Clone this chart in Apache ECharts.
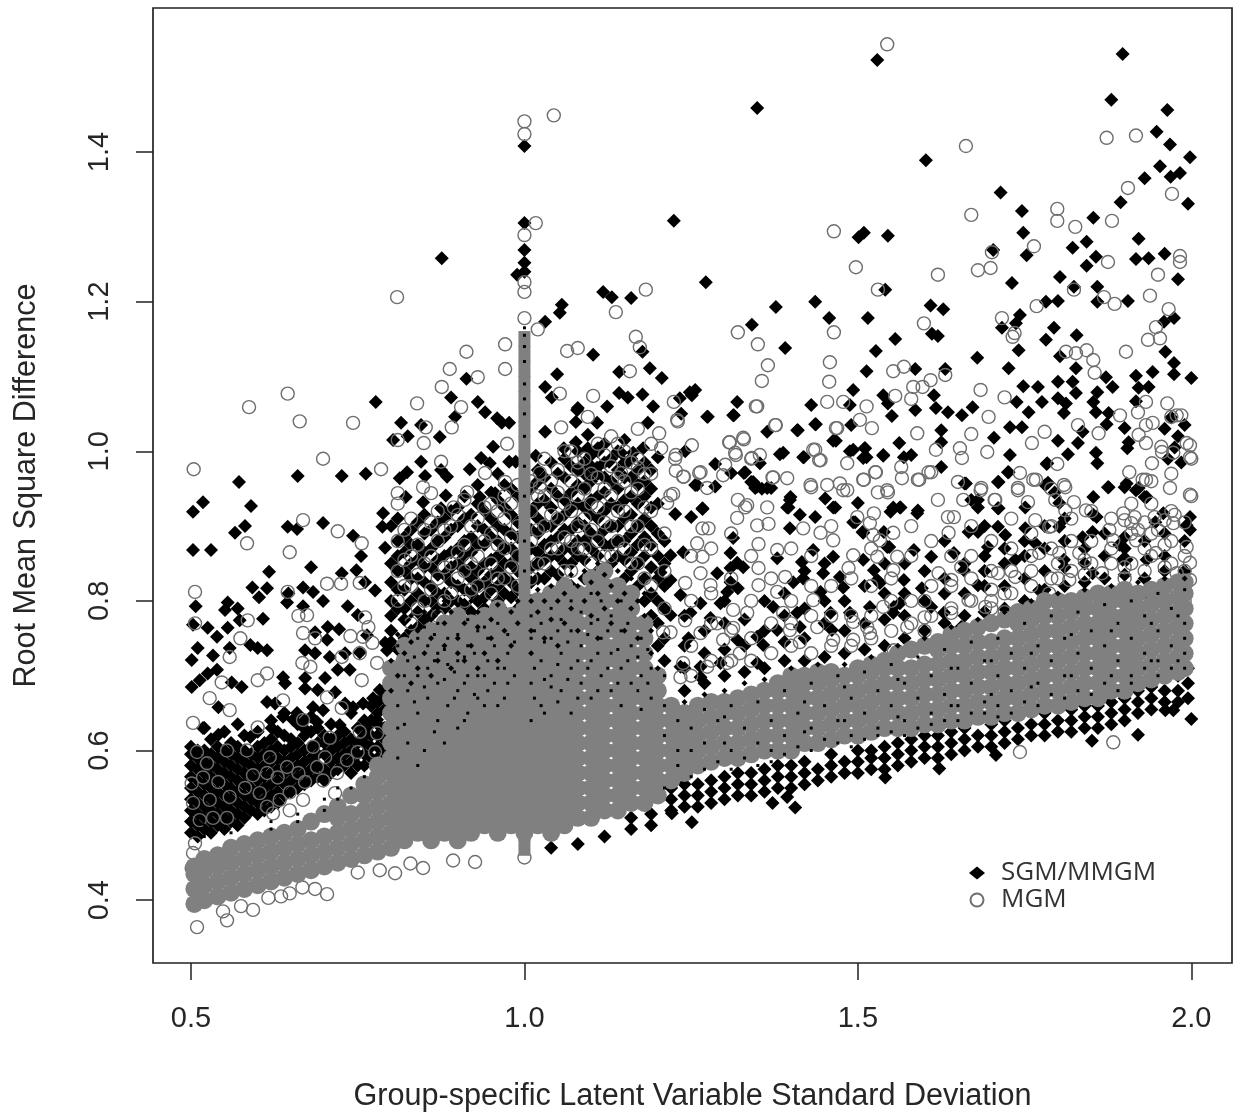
<!DOCTYPE html>
<html>
<head>
<meta charset="utf-8">
<style>html,body{margin:0;padding:0;background:#fff}#c{width:1237px;height:1113px}</style>
<script src="https://cdn.jsdelivr.net/npm/echarts@6/dist/echarts.min.js"></script>
</head>
<body>
<div id="c"></div>
<script>
const xTicks=[0.5,1.0,1.5,2.0];
const yTicks=[0.4,0.6,0.8,1.0,1.2,1.4];
const xTitle="Group-specific Latent Variable Standard Deviation";
const yTitle="Root Mean Square Difference";

// SGM/MMGM points read one at a time: [x,y]
const sgmPoints=[[1.349,1.459],[1.529,1.523],[1.897,1.531],[1.880,1.470],[1.964,1.456],[1.948,1.427],[1.968,1.410],[1.998,1.393],[1.953,1.381],[1.930,1.365],[1.969,1.367],[1.983,1.372],[1.995,1.331],[1.894,1.333],[1.853,1.312],[1.602,1.389],[1.714,1.346],[1.746,1.321],[1.748,1.292],[1.703,1.269],[1.753,1.262],[1.843,1.280],[1.822,1.272],[1.857,1.260],[1.843,1.248],[1.921,1.284],[1.917,1.257],[1.936,1.258],[1.960,1.264],[1.980,1.230],[1.731,1.225],[1.803,1.233],[1.824,1.220],[1.859,1.220],[1.859,1.200],[1.905,1.201],[1.782,1.200],[1.800,1.201],[1.743,1.182],[1.737,1.171],[1.716,1.165],[1.974,1.178],[1.959,1.173],[1.501,1.286],[1.509,1.292],[1.545,1.288],[1.541,1.216],[1.272,1.226],[1.377,1.193],[1.436,1.200],[1.457,1.178],[1.515,1.178],[1.341,1.169],[1.391,1.138],[1.609,1.195],[1.628,1.190],[1.611,1.157],[1.620,1.154],[1.556,1.150],[1.527,1.134],[1.679,1.125],[1.794,1.165],[1.782,1.149],[1.828,1.155],[1.741,1.135],[1.726,1.111],[1.803,1.127],[1.827,1.111],[1.961,1.133],[1.974,1.118],[1.974,1.103],[1.942,1.106],[2.0,1.098],[1.917,1.101],[1.872,1.099],[1.882,1.086],[1.921,1.085],[1.936,1.086],[1.917,1.067],[1.827,1.078],[1.859,1.079],[1.853,1.066],[1.800,1.093],[1.822,1.093],[1.748,1.087],[1.770,1.086],[1.800,1.071],[1.812,1.064],[1.809,1.051],[1.776,1.066],[1.738,1.066],[1.857,1.052],[1.876,1.051],[1.873,1.036],[1.756,1.052],[1.728,1.032],[1.746,1.032],[1.900,1.031],[1.837,1.026],[1.513,1.107],[1.493,1.082],[1.488,1.062],[1.586,1.110],[1.631,1.110],[1.538,1.075],[1.545,1.064],[1.614,1.075],[1.586,1.055],[1.617,1.058],[1.635,1.052],[1.656,1.048],[1.672,1.059],[1.551,1.047],[1.430,1.062],[1.256,1.082],[1.251,1.075],[1.275,1.046],[1.314,1.048],[1.319,1.066],[1.437,1.036],[1.490,1.035],[1.364,1.026],[1.410,1.028],[1.467,1.014],[1.562,1.011],[1.625,1.028],[1.625,1.012],[1.704,1.018],[1.728,0.995],[1.904,1.004],[1.906,1.012],[1.800,1.014],[1.830,1.011],[1.815,0.996],[1.857,0.998],[1.859,0.984],[1.783,0.983],[1.493,1.002],[1.510,1.004],[1.513,0.992],[1.538,0.994],[1.569,0.992],[1.580,0.995],[1.419,0.992],[1.383,0.996],[1.353,0.984],[1.286,0.983],[1.310,0.971],[1.329,0.971],[1.340,0.959],[1.356,0.950],[1.370,0.951],[1.346,0.951],[1.399,0.939],[1.396,0.925],[1.466,0.925],[1.256,0.955],[1.267,0.923],[1.500,0.931],[1.563,0.925],[1.590,0.921],[1.625,0.979],[1.726,0.972],[1.711,0.959],[1.660,0.957],[1.680,0.935],[1.711,0.924],[1.875,0.952],[1.900,0.952],[1.917,0.948],[1.930,0.939],[1.785,0.958],[1.795,0.945],[1.853,0.939],[1.853,0.915],
[1.0,1.408],[1.0,1.305],[1.0,1.269],[1.0,1.252],[0.989,1.236],[1.0,1.240],[0.876,1.258],[1.056,1.196],[1.053,1.185],[1.031,1.173],[1.118,1.213],[1.131,1.206],[1.160,1.205],[1.224,1.308],[1.103,1.129],[1.177,1.133],[1.049,1.103],[1.142,1.106],[1.188,1.111],[1.206,1.098],[1.031,1.086],[1.041,1.072],[1.142,1.078],[1.155,1.072],[1.177,1.076],[1.233,1.071],[1.248,1.079],[1.193,1.060],[1.235,1.050],[1.124,1.060],[1.080,1.058],[1.077,1.039],[1.109,1.038],[1.185,1.038],[1.031,1.026],[1.095,1.022],[1.077,1.012],[1.059,1.004],[1.095,1.004],[1.110,1.004],[1.178,1.004],[1.145,0.998],[1.163,0.998],[1.155,0.986],[1.200,0.992],[1.241,1.000],[1.127,0.986],[1.109,0.978],[1.017,0.994],[0.977,0.986],[0.987,0.986],[0.953,1.006],[0.935,0.991],[0.948,0.984],[0.918,0.976],[0.959,1.044],[0.977,1.038],[0.966,1.038],[0.930,1.066],[0.941,1.052],[0.890,1.072],[0.913,1.097],[0.896,1.046],[0.873,1.019],[0.777,1.066],[0.815,1.038],[0.825,1.020],[0.803,1.015],[0.845,1.035],[0.845,0.986],[0.824,0.972],[0.813,0.964],[0.851,0.967],[0.884,0.966],[0.875,0.975],[0.882,0.941],[0.848,0.932],[0.875,0.924],[0.822,0.939],[0.956,0.944],[0.930,0.955],[0.933,0.939],[0.762,0.970],[0.726,0.967],[0.660,0.967],[0.572,0.959],[0.590,0.927],[0.518,0.932],[0.503,0.919],[0.788,0.917],
[0.503,0.868],[0.530,0.868],[0.566,0.891],[0.581,0.900],[0.645,0.899],[0.659,0.896],[0.698,0.904],[0.743,0.887],[0.755,0.860],[0.787,0.899],[0.791,0.871],[0.617,0.839],[0.680,0.845],[0.726,0.837],[0.748,0.841],[0.761,0.825],[0.776,0.814],[0.592,0.818],[0.614,0.817],[0.602,0.805],[0.507,0.793],[0.668,0.818],[0.683,0.812],[0.698,0.800],[0.644,0.798],[0.646,0.810],[0.668,0.793],[0.555,0.798],[0.551,0.788],[0.570,0.790],[0.608,0.776],[0.735,0.793],[0.750,0.781],[0.503,0.768],[0.525,0.764],[0.539,0.752],[0.555,0.764],[0.573,0.774],[0.705,0.765],[0.722,0.762],[0.686,0.758],[0.704,0.748],[0.764,0.754],[0.791,0.744],[0.794,0.734],[0.510,0.737],[0.501,0.721],[0.589,0.741],[0.614,0.734],[0.600,0.737],[0.558,0.737],[0.533,0.727],[0.671,0.734],[0.708,0.725],[0.686,0.730],[0.753,0.731],[0.731,0.730],[0.720,0.708],[0.738,0.708],[0.525,0.703],[0.513,0.694],[0.501,0.685],[0.539,0.708],[0.638,0.698],[0.641,0.690],[0.671,0.697],[0.671,0.683],[0.701,0.697],[0.690,0.681],[0.716,0.678],[0.783,0.681],[0.773,0.670],[0.794,0.684],[0.576,0.685],[0.561,0.691],[0.758,0.663],[0.743,0.658],[0.731,0.663],[0.614,0.665],[0.626,0.663],[0.638,0.645],[0.659,0.650],[0.683,0.658],[0.698,0.654],[0.621,0.630],[0.541,0.658],[0.518,0.630],[0.723,0.634],[0.689,0.638],[0.668,0.631],[0.653,0.641],[0.779,0.641],[0.764,0.630],[0.541,0.621],[0.589,0.618],
[1.274,1.046],[1.313,1.048],[1.079,1.055],[1.409,1.028],[1.436,1.036],[1.463,1.014],[1.488,1.000],[1.511,1.004],[1.538,0.995],[1.508,0.991],[1.418,0.992],[1.388,0.998],[1.331,0.972],[1.343,0.959],[1.364,0.951],[1.349,0.953],[1.259,0.955],[1.286,0.953],[1.451,0.937],[1.463,0.925],[1.398,0.935],[1.394,0.925],[1.413,0.915],[1.226,0.916],[1.250,0.912],[1.267,0.924],[1.496,0.905],[1.508,0.891],[1.398,0.897],[1.436,0.912],[1.544,0.872],[1.553,0.925],[1.313,0.884],[1.433,0.868],[1.309,0.864],[1.238,0.865],[1.416,0.852],[1.463,0.859],[1.508,0.855],[1.379,0.857],[1.319,0.851],[1.328,0.845],[1.309,0.844],[1.289,0.837],[1.219,0.861],[1.204,0.838],[1.219,0.828],[1.234,0.808],[1.309,0.825],[1.320,0.817],[1.304,0.812],[1.294,0.797],[1.264,0.797],[1.279,0.777],[1.249,0.784],[1.219,0.781],[1.403,0.825],[1.418,0.830],[1.444,0.812],[1.478,0.818],[1.529,0.828],[1.473,0.832],[1.448,0.837],[1.349,0.752],[1.358,0.741],[1.246,0.750],[1.373,0.792],[1.409,0.784],[1.459,0.784],[1.488,0.784],[1.518,0.792],[1.553,0.784],[1.413,0.765],[1.461,0.761],[1.379,0.761],[1.319,0.748],[1.264,0.712],[1.294,0.717],[1.234,0.712],[1.264,0.698],[1.349,0.717],
[1.662,0.957],[1.710,0.959],[1.725,0.972],[1.784,0.984],[1.781,0.955],[1.802,0.931],[1.876,0.952],[1.903,0.957],[1.933,0.939],[1.921,0.951],[1.858,0.912],[1.680,0.925],[1.670,0.935],[1.710,0.924],[1.751,0.925],[1.802,0.899],[1.837,0.885],[1.852,0.892],[1.564,0.925],[1.589,0.917],[1.549,0.919],[1.507,0.892],[1.493,0.905],[1.946,0.905],[1.998,0.912],[1.998,0.895],[1.993,0.901],[1.958,0.917],[1.892,0.875],[1.903,0.855],[1.933,0.855],[1.751,0.897],[1.721,0.888],[1.766,0.877],[1.680,0.892],[1.666,0.892],[1.710,0.899],[1.539,0.892],[1.547,0.872],[1.524,0.841],[1.533,0.824],[1.569,0.828],[1.596,0.817],[1.554,0.792],[1.563,0.797],[1.584,0.868],[1.610,0.859],[1.644,0.864],[1.659,0.841],[1.695,0.872],[1.736,0.855],[1.772,0.814],[1.809,0.855],[1.680,0.821],[1.852,0.837],[1.897,0.855],[1.938,0.805],[1.610,0.792],[1.629,0.784],[1.655,0.765],
[1.541,0.564],[1.622,0.576],[1.707,0.594],[1.851,0.613],[1.920,0.621],[2.0,0.642],[1.961,0.654],[1.973,0.654],[1.251,0.504],[1.372,0.530],[1.406,0.524],[1.394,0.538],[1.221,0.516],
[1.96,1.03],[1.97,1.045],[1.98,1.02],[1.99,1.035],[1.975,1.005],[1.985,0.985],[1.965,0.99]];

// Dense SGM/MMGM patches, one column per entry: [x, y, y, ...]
const sgmColumns=[
[.50,.49,.505,.52,.535,.55,.565,.58,.595,.605],
[.51,.485,.50,.515,.53,.545,.56,.575,.59,.60],
[.52,.495,.51,.525,.54,.555,.57,.585,.60,.63],
[.53,.49,.505,.52,.535,.55,.565,.58,.595,.615],
[.54,.50,.515,.53,.545,.56,.575,.59,.605],
[.55,.495,.51,.525,.54,.555,.57,.585,.60,.625],
[.56,.505,.52,.535,.55,.565,.58,.595,.61],
[.57,.50,.515,.53,.545,.56,.575,.59,.605,.635],
[.58,.51,.525,.54,.555,.57,.585,.60,.62],
[.59,.52,.535,.55,.565,.58,.595],
[.60,.515,.53,.545,.56,.575,.59,.605,.625],
[.61,.52,.535,.55,.565,.58,.595,.61],
[.62,.525,.54,.555,.57,.585,.60,.615,.64],
[.63,.53,.545,.56,.575,.59,.605,.625],
[.64,.54,.555,.57,.585,.60,.62,.65],
[.65,.545,.56,.575,.59,.605,.615],
[.66,.55,.565,.58,.595,.61,.635],
[.67,.555,.57,.585,.60,.62,.64],
[.68,.56,.575,.59,.605,.625,.645],
[.69,.565,.58,.595,.61,.63],
[.70,.56,.575,.595,.61,.62],
[.71,.57,.585,.60,.615,.635],
[.72,.575,.59,.605,.62],
[.73,.58,.595,.61,.625],
[.74,.57,.585,.60,.615,.65],
[.75,.58,.595,.61,.63],
[.76,.58,.595,.61,.62,.64],
[.77,.59,.605,.62,.64,.66],
[.78,.59,.605,.62,.635,.65,.665],
[.79,.60,.615,.63,.655,.67],
[.80,.745,.76,.78,.80,.825,.85,.90],
[.81,.735,.79,.815,.84,.86,.88,.91],
[.82,.75,.775,.79,.815,.84,.865,.885],
[.83,.76,.80,.83,.85,.875,.895],
[.84,.765,.785,.81,.83,.855,.875,.905],
[.85,.74,.775,.80,.825,.845,.865,.89,.915],
[.86,.76,.78,.80,.82,.845,.87,.895],
[.87,.75,.79,.81,.835,.855,.88,.905],
[.88,.77,.79,.81,.835,.86,.885,.91],
[.89,.76,.80,.825,.845,.865,.895,.92],
[.90,.78,.80,.82,.85,.87,.90,.925],
[.91,.77,.795,.815,.84,.86,.88,.91,.94],
[.92,.785,.81,.83,.845,.865,.885,.915],
[.93,.775,.80,.82,.84,.875,.90,.93],
[.94,.79,.805,.825,.85,.875,.895,.92],
[.95,.78,.815,.835,.855,.885,.91,.945],
[.96,.80,.82,.84,.86,.88,.90,.935,.97],
[.97,.785,.81,.83,.85,.87,.895,.925,.955],
[.98,.805,.825,.85,.87,.89,.915,.95],
[.99,.79,.815,.84,.86,.885,.905,.94],
[1.01,.80,.825,.845,.87,.895,.92,.95],
[1.02,.83,.85,.865,.89,.91,.93,.96,.975],
[1.03,.805,.83,.855,.875,.90,.935,.965],
[1.04,.84,.86,.88,.90,.925,.95,.985],
[1.05,.81,.835,.86,.885,.91,.94,.97],
[1.06,.85,.87,.895,.915,.935,.965,.99],
[1.07,.82,.85,.87,.895,.925,.945,.98],
[1.08,.86,.88,.905,.93,.955,.975,1.0],
[1.09,.83,.855,.88,.90,.925,.95,.97,.985],
[1.10,.87,.89,.915,.935,.96,.98,.995],
[1.11,.84,.86,.885,.91,.94,.97,1.0],
[1.12,.875,.895,.92,.945,.965,.985,1.01],
[1.13,.85,.875,.90,.93,.96,.99],
[1.14,.86,.88,.90,.925,.95,.975,1.0],
[1.15,.83,.855,.88,.91,.935,.965,.985,1.015],
[1.16,.84,.865,.89,.915,.94,.965,.99],
[1.17,.82,.85,.875,.90,.93,.955,.975],
[1.18,.80,.83,.86,.885,.91,.94,.96,.985],
[1.19,.78,.81,.845,.875,.90,.925,.95,.975],
[1.20,.74,.77,.80,.83,.86,.89,.93],
[1.21,.72,.75,.79,.82,.85,.88],
[1.24,.68,.71,.74,.78],[1.27,.69,.73,.76],[1.30,.70,.735,.77,.80],[1.33,.705,.74,.775],[1.36,.71,.76,.80],[1.39,.72,.745,.78,.81],[1.42,.72,.75,.79,.84],[1.45,.725,.77,.80,.85],[1.48,.73,.76,.80],[1.51,.735,.77,.82],[1.54,.74,.775,.81,.85],[1.57,.75,.78,.81,.85],[1.60,.76,.80,.84],[1.63,.77,.81,.83,.88],[1.66,.78,.81,.85],[1.69,.785,.82,.84,.86,.90],[1.72,.79,.82,.85,.87],[1.75,.80,.83,.86,.88],[1.78,.815,.84,.87,.90],[1.81,.82,.845,.88,.91],[1.84,.825,.85,.87],[1.87,.83,.86,.89],[1.90,.835,.87,.885],[1.93,.83,.88],[1.96,.84,.86,.89],[1.99,.84,.88],
[1.04,.47],[1.08,.475],[1.12,.485],[1.16,.495,.51],[1.19,.50,.515],
[1.22,.52,.535,.55],[1.24,.525,.54,.555],[1.26,.525,.54,.555],[1.28,.53,.545,.56],[1.30,.535,.55,.565],
[1.32,.54,.555,.57],[1.34,.54,.555,.57],[1.36,.545,.56,.575],[1.38,.55,.565,.58],[1.40,.55,.565,.58],
[1.42,.555,.57,.585],[1.44,.56,.575],[1.46,.565,.58,.595],[1.48,.57,.585],[1.50,.57,.585,.60],
[1.52,.575,.59,.60],[1.54,.575,.59,.605],[1.56,.58,.595,.61],[1.58,.585,.60,.615],[1.60,.59,.605,.62],
[1.62,.59,.605,.62],[1.64,.595,.61,.625],[1.66,.60,.615,.63],[1.68,.605,.62],[1.70,.605,.62,.635],
[1.72,.61,.625,.64],[1.74,.615,.63],[1.76,.62,.635],[1.78,.62,.635,.65],[1.80,.625,.64],
[1.82,.625,.64,.655],[1.84,.63,.645,.66],[1.86,.63,.645,.66],[1.88,.635,.65,.665],[1.90,.64,.655,.67],
[1.92,.65,.665,.68],[1.94,.655,.67,.685],[1.96,.665,.68],[1.98,.665,.68,.70],[1.995,.67,.69,.71]
];

// MGM points read one at a time: [x,y]
const mgmPoints=[[1.544,1.544],[1.662,1.408],[1.873,1.419],[1.917,1.422],[1.905,1.352],[1.971,1.344],[1.670,1.316],[1.799,1.324],[1.799,1.308],[1.826,1.300],[1.881,1.308],[1.464,1.294],[1.497,1.246],[1.764,1.274],[1.701,1.266],[1.680,1.242],[1.699,1.245],[1.620,1.236],[1.530,1.216],[1.875,1.253],[1.983,1.261],[1.983,1.253],[1.950,1.236],[1.938,1.208],[1.824,1.216],[1.768,1.194],[1.869,1.206],[1.885,1.197],[1.966,1.190],[1.947,1.166],[1.935,1.149],[1.953,1.151],[1.902,1.133],[1.716,1.178],[1.735,1.158],[1.732,1.153],[1.599,1.171],[1.320,1.159],[1.350,1.143],[1.464,1.159],[1.365,1.115],[1.356,1.094],[1.458,1.119],[1.457,1.093],[1.347,1.060],[1.454,1.066],[1.478,1.066],[1.513,1.060],[1.556,1.074],[1.580,1.070],[1.684,1.082],[1.720,1.072],[1.696,1.046],[1.583,1.086],[1.597,1.086],[1.609,1.095],[1.553,1.107],[1.569,1.113],[1.631,1.102],[1.377,1.035],[1.329,1.016],[1.307,1.012],[1.317,0.995],[1.467,1.031],[1.521,1.031],[1.503,1.042],[1.589,1.024],[1.670,1.023],[1.653,1.004],[1.617,1.002],[1.694,0.999],[1.656,0.991],[1.761,1.011],[1.780,1.026],[1.830,1.035],[1.861,1.024],[1.893,1.048],[1.920,1.052],[1.932,1.066],[1.964,1.064],[1.978,1.048],[1.932,1.035],[1.921,1.022],[1.932,1.011],[1.956,0.999],[2.0,0.990],[1.998,1.008],[1.941,0.984],[1.927,0.962],[1.799,0.983],[1.767,0.962],[1.740,0.948],[1.809,0.955],[1.824,0.932],[1.743,0.971],[2.0,0.940],[1.843,1.135],[1.853,1.122],[1.827,1.131],[1.812,1.133],[1.855,1.105],[1.565,0.979],[1.590,0.962],[1.606,0.972],[1.566,0.964],[1.509,0.962],[1.527,0.972],[1.545,0.945],[1.530,0.945],[1.430,0.952],[1.478,0.948],[1.454,0.955],[1.436,1.002],[1.442,0.988],[1.340,0.990],[1.353,0.995],[1.372,0.965],[1.394,0.964],[1.262,0.971],[1.301,0.982],[1.274,0.951],[1.684,0.948],[1.705,0.935],
[1.0,1.441],[1.0,1.424],[1.044,1.449],[1.017,1.305],[1.0,1.289],[1.0,1.226],[1.0,1.213],[0.809,1.206],[1.182,1.216],[1.137,1.186],[1.0,1.178],[1.020,1.163],[0.971,1.143],[0.971,1.110],[0.913,1.133],[0.888,1.110],[0.930,1.099],[0.876,1.086],[1.064,1.134],[1.080,1.138],[1.167,1.153],[1.173,1.139],[1.158,1.107],[0.839,1.064],[0.905,1.059],[0.891,1.032],[0.852,1.032],[0.849,1.011],[0.645,1.077],[0.587,1.059],[0.663,1.040],[0.743,1.038],[0.698,0.990],[0.785,0.976],[0.504,0.976],[0.875,0.986],[1.053,1.077],[1.103,1.074],[1.230,1.040],[1.224,1.066],[1.095,1.046],[1.055,1.032],[0.974,1.010],[0.810,1.015],[1.227,0.995],[1.227,0.974],[1.239,0.966],[1.223,0.943],[1.202,1.024],[1.205,1.004],[1.080,0.975],[1.145,0.971],[1.170,0.978],[0.971,0.959],[0.941,0.971],[0.914,0.945],[0.810,0.944],[0.848,0.952],[0.860,0.944],[0.894,0.925],[1.023,0.971],[1.023,0.952],
[0.668,0.908],[0.720,0.893],[0.648,0.865],[0.756,0.877],[0.704,0.823],[0.725,0.823],[0.753,0.824],[0.584,0.877],[0.506,0.812],[0.645,0.812],[0.661,0.780],[0.674,0.781],[0.761,0.778],[0.766,0.765],[0.506,0.770],[0.585,0.774],[0.739,0.753],[0.668,0.757],[0.686,0.750],[0.772,0.744],[0.758,0.752],[0.558,0.725],[0.574,0.750],[0.726,0.725],[0.753,0.730],[0.667,0.717],[0.679,0.712],[0.756,0.694],[0.779,0.717],[0.546,0.691],[0.528,0.670],[0.600,0.694],[0.614,0.703],[0.704,0.671],[0.726,0.657],[0.638,0.667],[0.503,0.637],[0.558,0.654],[0.600,0.631],[0.668,0.641],[0.708,0.617],[0.753,0.625],[0.779,0.623],
[0.509,0.598],[0.554,0.600],[0.584,0.600],[0.524,0.583],[0.518,0.564],[0.501,0.556],[0.541,0.558],[0.528,0.534],[0.503,0.530],[0.593,0.567],[0.614,0.570],[0.644,0.578],[0.661,0.570],[0.671,0.558],[0.630,0.564],[0.648,0.544],[0.581,0.550],[0.558,0.538],[0.603,0.543],[0.633,0.534],[0.614,0.525],[0.668,0.534],[0.689,0.578],[0.701,0.591],[0.719,0.570],[0.750,0.598],[0.776,0.598],[0.734,0.587],[0.513,0.507],[0.533,0.510],[0.554,0.510],[0.623,0.516],[0.648,0.520],[0.716,0.543],[0.698,0.560],[0.683,0.605],[0.618,0.591],
[0.509,0.364],[0.554,0.373],[0.593,0.387],[0.704,0.408],[0.686,0.415],[0.667,0.417],[0.648,0.409],[0.616,0.403],[0.806,0.436],[0.750,0.437],[0.848,0.443],[0.829,0.449],[0.893,0.453],[0.926,0.451],[1.0,0.457],[0.720,0.449],[0.501,0.443],[0.503,0.463],[0.506,0.476],[0.783,0.44],[0.548,0.385],[0.575,0.392],[0.635,0.405],
[1.229,1.042],[1.349,1.060],[1.376,1.035],[1.469,1.031],[1.251,1.008],[1.226,0.990],[1.328,1.018],[1.308,1.012],[1.238,0.966],[1.264,0.972],[1.298,0.968],[1.316,0.998],[1.341,0.991],[1.373,0.965],[1.433,1.002],[1.444,0.988],[1.484,0.984],[1.508,0.962],[1.429,0.955],[1.473,0.957],[1.484,0.948],[1.219,0.941],[1.214,0.931],[1.320,0.935],[1.331,0.925],[1.364,0.925],[1.319,0.911],[1.334,0.928],[1.349,0.901],[1.366,0.903],[1.351,0.876],[1.276,0.897],[1.267,0.897],[1.259,0.877],[1.267,0.859],[1.444,0.891],[1.418,0.897],[1.523,0.888],[1.493,0.861],[1.463,0.881],[1.351,0.844],[1.379,0.868],[1.391,0.832],[1.351,0.821],[1.379,0.812],[1.279,0.821],[1.264,0.837],[1.241,0.824],[1.553,0.841],[1.529,0.859],[1.486,0.844],[1.553,0.891],[1.433,0.801],[1.313,0.788],[1.334,0.784],[1.289,0.770],[1.313,0.764],[1.298,0.748],[1.219,0.758],[1.208,0.758],[1.241,0.774],[1.264,0.757],[1.388,0.784],[1.493,0.772],[1.514,0.765],[1.439,0.765],[1.413,0.745],[1.538,0.792],[1.238,0.717],[1.234,0.698],[1.274,0.712],[1.304,0.717],[1.323,0.730],[1.398,0.761],[1.463,0.748],[1.493,0.748],
[1.526,0.972],[1.544,0.948],[1.592,0.962],[1.610,0.972],[1.650,0.959],[1.685,0.951],[1.706,0.935],[1.740,0.951],[1.763,0.962],[1.811,0.952],[1.796,0.935],[1.755,0.932],[1.998,0.942],[1.968,0.951],[1.932,0.962],[1.907,0.972],[1.955,1.006],[1.998,0.992],[1.973,0.998],[1.993,1.011],[1.942,1.038],[1.970,1.046],[1.985,1.048],[1.620,0.935],[1.635,0.912],[1.644,0.912],[1.658,0.935],[1.524,0.917],[1.499,0.912],[1.533,0.881],[1.518,0.904],[1.811,0.921],[1.842,0.921],[1.787,0.899],[1.766,0.908],[1.877,0.895],[1.898,0.917],[1.910,0.904],[1.973,0.904],[1.993,0.872],[1.998,0.851],[1.998,0.828],[1.978,0.837],[1.947,0.864],[1.917,0.881],[1.883,0.881],[1.559,0.859],[1.636,0.891],[1.621,0.837],[1.640,0.828],[1.655,0.845],[1.710,0.837],[1.736,0.832],[1.772,0.864],[1.802,0.864],[1.832,0.864],[1.817,0.828],[1.787,0.810],[1.866,0.837],[1.877,0.805],[1.666,0.801],[1.691,0.792],[1.640,0.784],[1.600,0.778],[1.574,0.765],[1.518,0.757],[1.554,0.734],
[1.883,0.611],[1.743,0.598],[1.90,0.908],[1.915,0.912],[1.93,0.905],[1.945,0.912],[1.96,0.908],[1.975,0.915],[1.99,0.905],[1.92,0.895],[1.95,0.895]];

// Overlapping MGM circles in the crowded blocks: [x, y, y, ...]
const mgmColumns=[
[.81,.80,.84,.88,.93],[.82,.82,.855,.895],[.83,.77,.82,.86,.91],[.84,.79,.835,.875],[.85,.80,.85,.895],[.86,.815,.86,.905],[.87,.78,.83,.88,.92],[.88,.80,.845,.895],[.89,.81,.85,.90],[.90,.83,.865,.915],
[.91,.80,.84,.875,.935],[.92,.815,.85,.90],[.93,.82,.86,.91],[.94,.835,.88,.925],[.95,.81,.85,.89,.93],[.96,.83,.875,.92],[.97,.83,.87,.91,.94],[.98,.845,.885,.93],[.99,.82,.86,.90,.955],
[1.01,.83,.88,.92,.96],[1.02,.85,.895,.94],[1.03,.85,.90,.94,.99],[1.04,.87,.915,.96],[1.05,.87,.91,.945,.975],[1.06,.84,.885,.93,1.0],[1.07,.84,.88,.92,.96,1.0],[1.08,.87,.90,.94,.985],[1.09,.87,.91,.95,.99],[1.10,.85,.895,.93,.97],
[1.11,.88,.925,.965,1.01],[1.12,.86,.905,.95,.995],[1.13,.86,.90,.94,.98,1.02],[1.14,.88,.92,.965,1.01],[1.15,.87,.92,.96,1.0],[1.16,.85,.90,.945,.985],[1.17,.85,.90,.95,.99,1.03],[1.18,.83,.875,.925,.97],[1.19,.82,.87,.92,.97,1.01],[1.21,.79,.84,.89],
[1.25,.70,.74,.80,.86],[1.28,.72,.77,.81,.87],[1.31,.72,.76,.83,.89],[1.34,.72,.75,.80,.86],[1.37,.73,.77,.83],[1.40,.74,.77,.80,.87],[1.43,.73,.78,.82,.86],[1.46,.74,.78,.82,.90],[1.49,.74,.78,.83],[1.52,.75,.78,.82,.87],[1.55,.76,.80,.83],[1.58,.77,.80,.86,.90],[1.61,.78,.82,.88],[1.64,.79,.82,.86],[1.67,.80,.83,.86,.90],[1.70,.80,.84,.88],[1.73,.81,.84,.87,.91],[1.76,.84,.86,.89],[1.79,.83,.87,.90,.95],[1.82,.84,.88,.91],[1.85,.85,.88,.92],[1.88,.85,.87,.91],[1.91,.85,.89,.93],[1.94,.86,.89,.93,.96],[1.97,.85,.88,.92,.97],
[1.60,.76,.80],[1.70,.79,.815],[1.72,.785,.81],[1.76,.82],[1.80,.83,.85],[1.84,.835,.855],[1.90,.83,.845],[1.93,.84,.87],[1.96,.845,.875],[1.99,.84,.86],[1.99,.80,.82],[1.98,.78]
];

// Solid grey core of the MGM cloud: [x, y, y, ...]
const greyColumns=[
[.505,.395,.415,.435,.445],[.52,.40,.42,.44,.455],[.54,.405,.425,.445,.46],[.56,.41,.43,.45,.47],[.58,.415,.435,.455,.475],
[.60,.42,.44,.46,.48],[.62,.425,.445,.465,.485],[.64,.43,.45,.47,.49],[.66,.435,.455,.475,.495],[.68,.44,.46,.48,.505],
[.70,.445,.465,.485,.515],[.72,.45,.47,.49,.51,.525],[.74,.455,.475,.495,.515,.54],[.76,.46,.48,.50,.52,.54,.555],[.78,.465,.485,.505,.525,.545,.565,.58],
[.80,.47,.49,.51,.53,.55,.57,.59,.61,.63,.65,.67,.69,.71],
[.82,.48,.50,.52,.54,.56,.58,.60,.62,.64,.66,.68,.70,.72,.74],
[.84,.49,.51,.53,.55,.57,.59,.61,.63,.65,.67,.69,.71,.73,.75],
[.86,.48,.50,.52,.54,.56,.58,.60,.62,.64,.66,.68,.70,.72,.74,.76],
[.88,.49,.51,.53,.55,.57,.59,.61,.63,.65,.67,.69,.71,.73,.75,.77],
[.90,.48,.50,.52,.54,.56,.58,.60,.62,.64,.66,.68,.70,.72,.74,.76,.78],
[.92,.49,.51,.53,.55,.57,.59,.61,.63,.65,.67,.69,.71,.73,.75,.77],
[.94,.50,.52,.54,.56,.58,.60,.62,.64,.66,.68,.70,.72,.74,.76,.78],
[.96,.49,.51,.53,.55,.57,.59,.61,.63,.65,.67,.69,.71,.73,.75,.77,.79],
[.98,.50,.52,.54,.56,.58,.60,.62,.64,.66,.68,.70,.72,.74,.76,.78],
[1.0,.49,.51,.53,.55,.57,.59,.61,.63,.65,.67,.69,.71,.73,.75,.77,.79],
[1.02,.50,.52,.54,.56,.58,.60,.62,.64,.66,.68,.70,.72,.74,.76,.78,.80],
[1.04,.49,.51,.53,.55,.57,.59,.61,.63,.65,.67,.69,.71,.73,.75,.77,.79,.81],
[1.06,.50,.52,.54,.56,.58,.60,.62,.64,.66,.68,.70,.72,.74,.76,.78,.80,.82],
[1.08,.51,.53,.55,.57,.59,.61,.63,.65,.67,.69,.71,.73,.75,.77,.79,.81],
[1.10,.51,.53,.55,.57,.59,.61,.63,.65,.67,.69,.71,.73,.75,.77,.79,.81,.83],
[1.12,.52,.54,.56,.58,.60,.62,.64,.66,.68,.70,.72,.74,.76,.78,.80,.82,.84],
[1.14,.52,.54,.56,.58,.60,.62,.64,.66,.68,.70,.72,.74,.76,.78,.80,.82],
[1.16,.53,.55,.57,.59,.61,.63,.65,.67,.69,.71,.73,.75,.77,.79,.81],
[1.18,.53,.55,.57,.59,.61,.63,.65,.67,.69,.71,.73,.75,.77],
[1.20,.54,.56,.58,.60,.62,.64,.66,.68,.70],
[1.22,.56,.58,.60,.62,.64,.66],[1.24,.57,.59,.61,.63,.65],[1.26,.58,.60,.62,.64,.66],[1.28,.585,.605,.625,.645,.665],[1.30,.59,.61,.63,.65,.665],
[1.32,.59,.61,.63,.65,.67],[1.34,.595,.615,.635,.655,.675],[1.36,.60,.62,.64,.66,.68],[1.38,.60,.62,.64,.66,.68,.69],[1.40,.60,.62,.64,.66,.68,.70],
[1.42,.61,.63,.65,.67,.69,.70],[1.44,.61,.63,.65,.67,.69,.705],[1.46,.615,.635,.655,.675,.695,.705],[1.48,.62,.64,.66,.68,.70],[1.50,.62,.64,.66,.68,.70,.71],
[1.52,.625,.645,.665,.685,.705,.715],[1.54,.63,.65,.67,.69,.71,.72],[1.56,.63,.65,.67,.69,.71,.73],[1.58,.63,.65,.67,.69,.71,.735],[1.60,.635,.655,.675,.695,.715,.74],
[1.62,.635,.655,.675,.695,.715,.735,.745],[1.64,.64,.66,.68,.70,.72,.74,.755],[1.66,.64,.66,.68,.70,.72,.74,.76],[1.68,.645,.665,.685,.705,.725,.745,.765],[1.70,.645,.665,.685,.705,.725,.745,.77],
[1.72,.65,.67,.69,.71,.73,.75,.775],[1.74,.65,.67,.69,.71,.73,.75,.77,.785],[1.76,.655,.675,.695,.715,.735,.755,.775,.79],[1.78,.66,.68,.70,.72,.74,.76,.78,.80],[1.80,.66,.68,.70,.72,.74,.76,.78,.80],
[1.82,.665,.685,.705,.725,.745,.765,.785,.80],[1.84,.67,.69,.71,.73,.75,.77,.79,.805],[1.86,.67,.69,.71,.73,.75,.77,.79,.81],[1.88,.68,.70,.72,.74,.76,.78,.80,.81],[1.90,.68,.70,.72,.74,.76,.78,.80,.815],
[1.92,.69,.71,.73,.75,.77,.79,.81],[1.94,.695,.715,.735,.755,.775,.795,.815],[1.96,.70,.72,.74,.76,.78,.80,.82],[1.98,.705,.725,.745,.765,.785,.805,.825],[1.99,.71,.73,.75,.77,.79,.81,.825]
];

// The vertical ridge of MGM values at a standard deviation of 1.0
const ridgeX=[1.0];
const ridgeY=[.47,.49,.51,.53,.55,.57,.59,.61,.63,.65,.67,.69,.71,.73,.75,.77,.79,.81,.83,.85,.87,.89,.91,.93,.95,.97,.99,1.01,1.03,1.05,1.07,1.09,1.11,1.13,1.15];

// SGM/MMGM marks that sit over the top of the grey: [x, y, y, ...]
const overlayColumns=[
[.80,.72,.74,.68],[.81,.70,.755],[.82,.73,.77],[.83,.69,.745,.78],[.84,.71,.76],[.85,.73,.785],[.86,.70,.75,.775],[.87,.72,.79],[.88,.74,.77,.80],[.89,.71,.785],
[.90,.75,.795,.73],[.91,.72,.77],[.92,.74,.80],[.93,.765,.785,.71],[.94,.73,.80],[.95,.75,.775],[.96,.72,.795],[.97,.76,.81],[.98,.74,.785],[.99,.77,.80],
[1.01,.76,.80,.73],[1.02,.785,.815],[1.03,.75,.80],[1.04,.775,.82],[1.05,.74,.80,.83],[1.06,.77,.81],[1.07,.79,.835],[1.08,.76,.82],[1.09,.80,.84],[1.10,.78,.825],
[1.11,.75,.81,.85],[1.12,.79,.835],[1.13,.77,.82,.855],[1.14,.80,.84],[1.15,.76,.81],[1.16,.79,.83],[1.17,.75,.80],[1.18,.78,.81],[1.19,.73,.76],[1.20,.71,.74],
[1.24,.665],[1.27,.675],[1.30,.68],[1.33,.69],[1.36,.695],[1.40,.71],[1.44,.715],[1.48,.715],[1.52,.725],[1.56,.74],[1.60,.75],[1.64,.765],[1.68,.775],[1.72,.785],[1.76,.80],[1.80,.81],[1.84,.815],[1.88,.82],[1.92,.825],[1.96,.83],[1.99,.83]
];

// Fine black specks showing through the grey: [x, y, y, ...]
const speckColumns=[
[1.0,1.14,1.12,1.09,1.07,1.05,1.02,.98,.94,.88,.84,1.155,1.165],
[.52,.50,.485],[.56,.49],[.62,.505,.495],[.66,.515,.505],[.70,.535,.52],[.72,.55,.535],[.74,.57,.55],[.76,.58,.565],
[.81,.63,.66,.70,.74,.59],[.825,.68,.72,.61,.76],[.84,.65,.70,.75,.58],[.855,.71,.67,.74],[.87,.64,.69,.73,.77],[.885,.66,.715,.75],
[.90,.68,.72,.755,.63],[.915,.65,.70,.74,.775],[.93,.70,.67,.76],[.945,.72,.68,.75],[.96,.66,.71,.77],[.975,.73,.69,.755],
[1.01,.69,.75,.64,.78],[1.025,.72,.66,.77],[1.04,.70,.75,.685,.79],[1.055,.73,.68,.775],[1.07,.71,.65,.76,.80],[1.085,.74,.69,.785],
[1.10,.72,.67,.77,.81],[1.115,.75,.70,.80],[1.13,.68,.73,.78],[1.145,.71,.76,.80,.66],[1.16,.69,.74,.79],[1.175,.70,.75,.655],[1.19,.67,.71,.76,.78],
[.82,.635,.70],[.835,.665,.725],[.85,.60,.685,.765],[.865,.625,.72,.755],[.88,.695,.735,.61],[.895,.67,.705],[.91,.69,.725,.64],[.925,.675,.73],[.94,.66,.70,.765],[.955,.69,.74],[.97,.67,.71],[.985,.70,.745],
[1.015,.67,.71,.76],[1.03,.65,.695,.745],[1.05,.665,.715,.76],[1.065,.695,.745],[1.08,.67,.72],[1.095,.71,.755],[1.11,.68,.73,.775],[1.125,.71,.76],[1.14,.69,.735],[1.155,.72,.77],[1.17,.68,.725],[1.185,.69,.735],
[1.21,.62,.66,.70,.55],[1.23,.60,.64,.58],[1.25,.63,.60,.565],[1.27,.655,.61,.575],[1.29,.64,.585],[1.31,.66,.60,.575],[1.33,.63,.59],[1.35,.665,.61,.58],
[1.37,.64,.60,.585],[1.39,.68,.62,.595],[1.41,.65,.605],[1.43,.69,.63,.60],[1.45,.66,.615],[1.47,.70,.64,.61],[1.49,.67,.62,.605],[1.51,.705,.65,.615],
[1.53,.68,.63,.62],[1.55,.715,.66,.625],[1.57,.69,.64,.62],[1.59,.725,.67,.63],[1.61,.70,.65,.635],[1.63,.735,.675,.64],[1.65,.71,.66,.64],[1.67,.745,.69,.65],
[1.69,.72,.665,.65],[1.71,.75,.70,.66,.645],[1.73,.73,.68,.65],[1.75,.77,.71,.665],[1.77,.74,.69,.66],[1.79,.78,.72,.675],[1.81,.75,.70,.67],[1.83,.785,.73,.68],
[1.85,.76,.71,.675],[1.87,.795,.74,.69],[1.89,.77,.72,.68],[1.91,.80,.75,.70,.69],[1.93,.78,.73,.71],[1.95,.81,.76,.72,.70],[1.97,.79,.74,.71],[1.99,.815,.77,.73,.71,.75],
[1.30,.61,.645],[1.42,.625,.665],[1.48,.64,.685],[1.56,.645,.695],[1.64,.66,.71],[1.70,.675,.72],[1.76,.685,.73],[1.82,.70,.755],[1.88,.70,.76],[1.94,.72,.77],[1.98,.72,.78]
];

const flatten=cols=>cols.flatMap(c=>c.slice(1).map(y=>[c[0],y]));
const sgmData=flatten(sgmColumns).concat(sgmPoints);
const mgmData=mgmPoints.concat(flatten(mgmColumns));
const greyData=flatten(greyColumns);
const overlayData=flatten(overlayColumns);
const speckData=flatten(speckColumns);
const ridgeData=ridgeY.map(y=>[ridgeX[0],y]);
const textColor="#262626";
const chart=echarts.init(document.getElementById('c'),null,{renderer:'canvas'});
chart.setOption({
  animation:false,
  backgroundColor:'#fff',
  grid:{left:153,right:5,top:8,bottom:150,outerBoundsMode:'none',containLabel:false,show:true,borderColor:'#222',borderWidth:1.7,backgroundColor:'transparent'},
  xAxis:{type:'value',min:0.443,max:2.061,splitLine:{show:false},
    axisLine:{show:false},
    axisTick:{show:true,length:17,customValues:xTicks,lineStyle:{color:'#222',width:1.5}},
    axisLabel:{show:true,customValues:xTicks,margin:41,fontFamily:'Liberation Sans',fontSize:29,color:textColor,formatter:v=>v.toFixed(1)},
    name:xTitle,nameLocation:'middle',nameGap:118,nameTextStyle:{fontFamily:'Liberation Sans',fontSize:30.6,color:textColor}},
  yAxis:{type:'value',min:0.316,max:1.5925,splitLine:{show:false},
    axisLine:{show:false},
    axisTick:{show:true,length:17,customValues:yTicks,lineStyle:{color:'#222',width:1.5}},
    axisLabel:{show:true,customValues:yTicks,rotate:90,margin:39,fontFamily:'Liberation Sans',fontSize:29,color:textColor,align:'center',verticalAlign:'bottom',formatter:v=>v.toFixed(1)},
    name:yTitle,nameLocation:'middle',nameRotate:90,nameGap:111,nameTextStyle:{fontFamily:'Liberation Sans',fontSize:30.6,color:textColor}},
  legend:{data:['SGM/MMGM','MGM'],orient:'vertical',left:964,top:855,itemWidth:16,itemHeight:13,itemGap:1,
    selectedMode:false,textStyle:{fontFamily:'Open Sans',fontSize:26,color:'#333',padding:[0,0,0,11]}},
  series:[
    {name:'SGM/MMGM',type:'scatter',silent:true,symbol:'diamond',symbolSize:14,itemStyle:{color:'#000',opacity:1},data:sgmData},
    {name:'MGM',type:'scatter',silent:true,symbol:'circle',symbolSize:13,itemStyle:{color:'transparent',borderColor:'#6e6e6e',borderWidth:1.4,opacity:1},data:mgmData},
    {name:'MGM core',type:'scatter',silent:true,symbol:'circle',symbolSize:18,itemStyle:{color:'#808080',opacity:1},data:greyData},
    {name:'MGM ridge',type:'scatter',silent:true,symbol:'rect',symbolSize:[12,16],itemStyle:{color:'#808080',opacity:1},data:ridgeData},
    {name:'SGM/MMGM overlay',type:'scatter',silent:true,symbol:'diamond',symbolSize:6,itemStyle:{color:'#000',opacity:1},data:overlayData},
    {name:'SGM/MMGM specks',type:'scatter',silent:true,symbol:'rect',symbolSize:3,itemStyle:{color:'#000',opacity:1},data:speckData}
  ]
});
</script>
</body>
</html>
